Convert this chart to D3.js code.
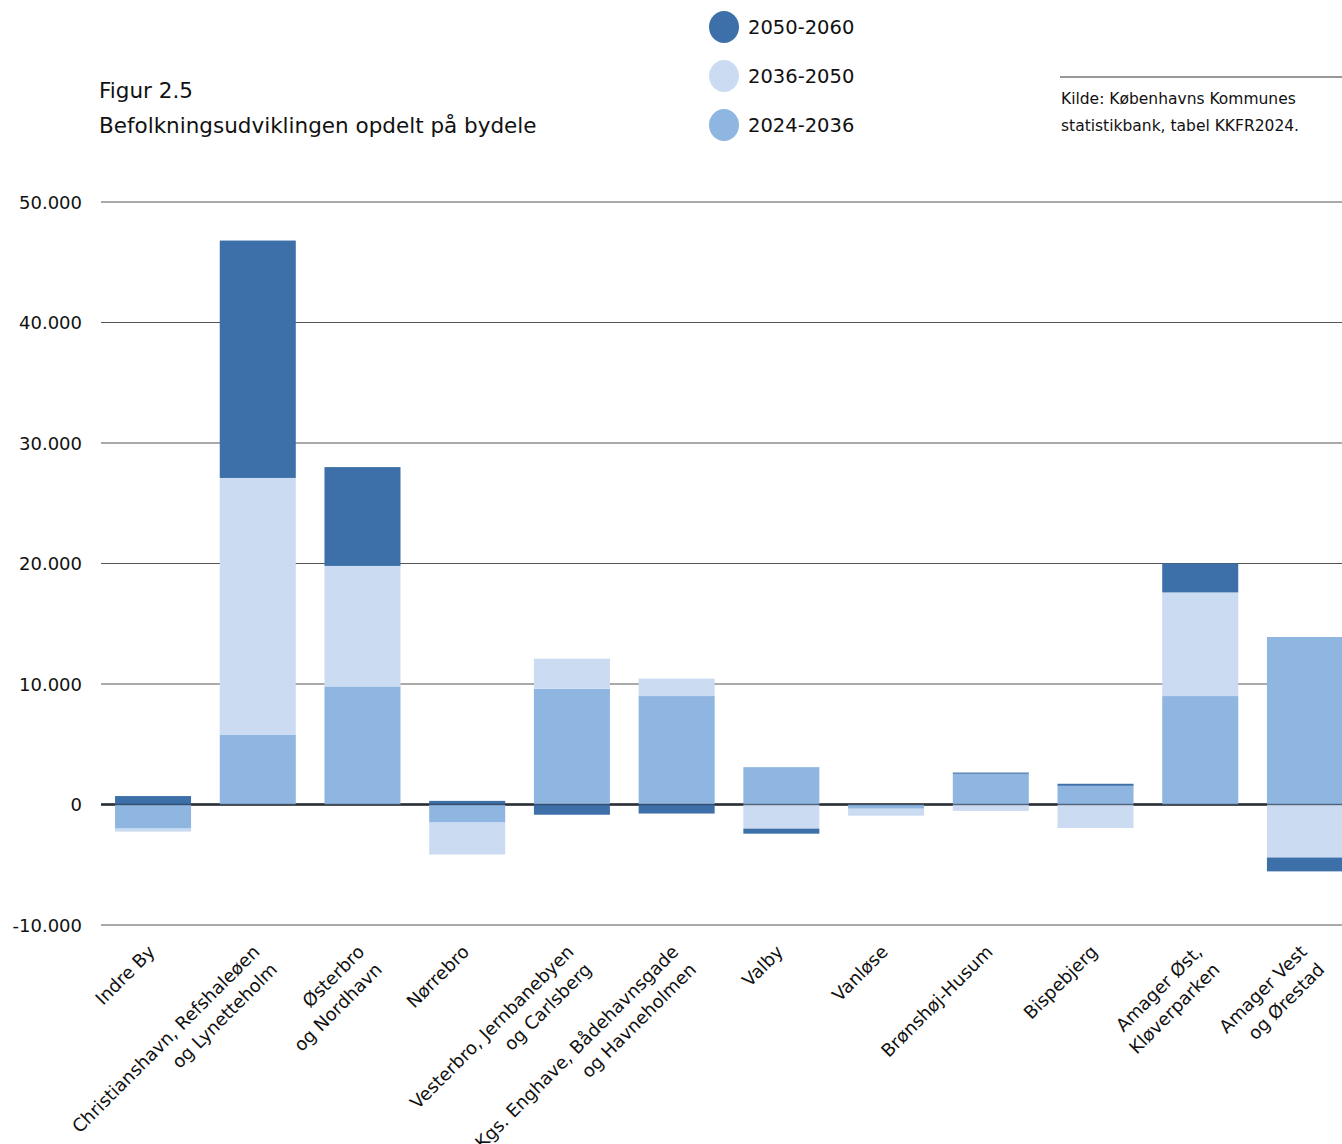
<!DOCTYPE html>
<html>
<head>
<meta charset="utf-8">
<script src="https://cdn.jsdelivr.net/npm/d3@7"></script>
<style>
  body { margin: 0; background: #fff; }
  svg { display: block; }
</style>
</head>
<body>
<svg id="chart" width="1342" height="1144"></svg>
<script>
// Befolkningsudvikling pr. bydel, stablet med negative værdier under 0

const districts = [
    ['Indre By'],
    ['Christianshavn, Refshaleøen', 'og Lynetteholm'],
    ['Østerbro', 'og Nordhavn'],
    ['Nørrebro'],
    ['Vesterbro, Jernbanebyen', 'og Carlsberg'],
    ['Kgs. Enghave, Bådehavnsgade', 'og Havneholmen'],
    ['Valby'],
    ['Vanløse'],
    ['Brønshøj-Husum'],
    ['Bispebjerg'],
    ['Amager Øst,', 'Kløverparken'],
    ['Amager Vest', 'og Ørestad']
];

const periods = ['2024-2036', '2036-2050', '2050-2060'];
const legendOrder = ['2050-2060', '2036-2050', '2024-2036'];

const growth2024 = [-2000, 5800, 9800, -1500, 9600, 9000, 3100, -350, 2550, 1550, 9000, 13900];
const growth2036 = [-250, 21300, 10000, -2650, 2500, 1450, -2000, -580, -530, -1950, 8600, -4400];
const growth2050 = [700, 19700, 8200, 300, -850, -750, -420, 0, 100, 170, 2400, -1150];

const yTicks = [-10000, 0, 10000, 20000, 30000, 40000, 50000];

const colors = {
    '2024-2036': '#8eb6e1',
    '2036-2050': '#cbdbf1',
    '2050-2060': '#3d6fa8'
};

const svg = d3.select('#chart');
const width = 1342;
const textFont = '"DejaVu Sans", sans-serif';

const rows = districts.map((d, i) => ({
    key: d.join(' '),
    lines: d,
    '2024-2036': growth2024[i],
    '2036-2050': growth2036[i],
    '2050-2060': growth2050[i]
}));

const x = d3.scaleBand()
    .domain(rows.map(d => d.key))
    .range([101, 1357])
    .paddingInner(0.274)
    .paddingOuter(0.134);

const y = d3.scaleLinear()
    .domain([-10000, 50000])
    .range([925, 202]);

// Gridlines + y labels (danish thousands separator, plain hyphen)
const fmt = v => d3.format(',')(v).replace(/,/g, '.').replace('\u2212', '-');

svg.append('g')
    .selectAll('line')
    .data(yTicks.filter(t => t !== 0))
    .enter()
    .append('line')
    .attr('x1', 101)
    .attr('x2', width)
    .attr('y1', d => y(d))
    .attr('y2', d => y(d))
    .style('stroke', '#555')
    .style('stroke-width', 1);

svg.append('g')
    .selectAll('text')
    .data(yTicks)
    .enter()
    .append('text')
    .attr('x', 82)
    .attr('y', d => y(d) + 6.5)
    .attr('text-anchor', 'end')
    .style('font-family', textFont)
    .style('font-size', '18px')
    .style('fill', '#111')
    .text(d => fmt(d));

// Zero line under the bars
svg.append('line')
    .attr('x1', 101)
    .attr('x2', width)
    .attr('y1', y(0))
    .attr('y2', y(0))
    .style('stroke', '#222')
    .style('stroke-width', 2.5);

// Stacked bars
const series = d3.stack()
    .keys(periods)
    .offset(d3.stackOffsetDiverging)(rows);

svg.append('g')
    .selectAll('g')
    .data(series)
    .enter()
    .append('g')
    .style('fill', d => colors[d.key])
    .selectAll('rect')
    .data(d => d)
    .enter()
    .append('rect')
    .attr('x', d => x(d.data.key))
    .attr('width', x.bandwidth())
    .attr('y', d => y(Math.max(d[0], d[1])))
    .attr('height', d => Math.abs(y(d[0]) - y(d[1])));

// Thin zero line over the bars
svg.append('line')
    .attr('x1', 101)
    .attr('x2', width)
    .attr('y1', y(0))
    .attr('y2', y(0))
    .style('stroke', '#2a3a4a')
    .style('stroke-opacity', 0.6)
    .style('stroke-width', 1.5);

// X labels, rotated
const labels = svg.append('g')
    .selectAll('text')
    .data(rows)
    .enter()
    .append('text')
    .attr('transform', d => `translate(${x(d.key) + x.bandwidth() / 2 + 3}, 953) rotate(-45)`)
    .attr('text-anchor', 'end')
    .style('font-family', textFont)
    .style('font-size', '18px')
    .style('fill', '#111');

labels.selectAll('tspan')
    .data(d => d.lines)
    .enter()
    .append('tspan')
    .attr('x', 0)
    .attr('dy', (d, i) => i === 0 ? 0 : 25)
    .text(d => d);

// Title
svg.append('text')
    .attr('x', 99)
    .attr('y', 98)
    .style('font-family', textFont)
    .style('font-size', '21.5px')
    .style('fill', '#111')
    .text('Figur 2.5');

svg.append('text')
    .attr('x', 99)
    .attr('y', 133)
    .style('font-family', textFont)
    .style('font-size', '21.5px')
    .style('fill', '#111')
    .text('Befolkningsudviklingen opdelt på bydele');

// Legend
const legend = svg.append('g')
    .selectAll('g')
    .data(legendOrder)
    .enter()
    .append('g')
    .attr('transform', (d, i) => `translate(724, ${27 + i * 49})`);

legend.append('ellipse')
    .attr('rx', 15)
    .attr('ry', 16)
    .style('fill', d => colors[d]);

legend.append('text')
    .attr('x', 24)
    .attr('y', 7)
    .style('font-family', textFont)
    .style('font-size', '19.5px')
    .style('fill', '#111')
    .text(d => d);

// Source note
svg.append('line')
    .attr('x1', 1060)
    .attr('x2', width)
    .attr('y1', 77)
    .attr('y2', 77)
    .style('stroke', '#333')
    .style('stroke-width', 1);

svg.append('g')
    .selectAll('text')
    .data(['Kilde: Københavns Kommunes', 'statistikbank, tabel KKFR2024.'])
    .enter()
    .append('text')
    .attr('x', 1061)
    .attr('y', (d, i) => 104 + i * 27)
    .style('font-family', textFont)
    .style('font-size', '15.5px')
    .style('fill', '#111')
    .text(d => d);
</script>
</body>
</html>
